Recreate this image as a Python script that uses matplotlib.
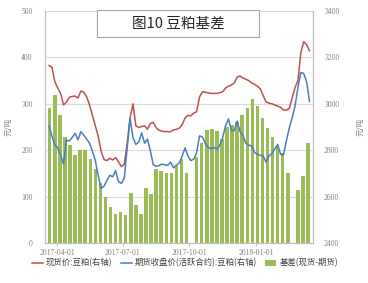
import matplotlib
matplotlib.use("Agg")
import matplotlib.pyplot as plt
import matplotlib.dates as mdates
from matplotlib.patches import Rectangle, Patch
from matplotlib.lines import Line2D
import numpy as np
import pandas as pd

plt.rcParams['font.family'] = ['Noto Sans CJK SC', 'DejaVu Sans']

# spot and futures price (right axis), sampled every 4 days
line_dates = pd.date_range("2017-03-21", periods=91, freq="4D")
spot = [3165, 3158, 3095, 3068, 3045, 2995, 3008, 3028, 3032, 3033,
        3025, 3055, 3050, 3030, 2995, 2950, 2905, 2860, 2795, 2760,
        2755, 2765, 2758, 2768, 2750, 2729, 2740, 2830, 2939, 3000,
        2905, 2898, 2902, 2905, 2890, 2915, 2920, 2897, 2886, 2882,
        2880, 2880, 2880, 2887, 2890, 2895, 2910, 2939, 2950, 2948,
        2960, 2966, 3030, 3052, 3050, 3047, 3045, 3045, 3045, 3048,
        3052, 3068, 3076, 3081, 3090, 3115, 3120, 3111, 3106, 3100,
        3090, 3084, 3076, 3065, 3035, 3008, 3003, 3000, 2995, 2990,
        2985, 2973, 2973, 2980, 3025, 3070, 3100, 3220, 3268, 3255,
        3228]
futures = [2905, 2860, 2824, 2810, 2780, 2740, 2843, 2840, 2855, 2873,
           2845, 2880, 2865, 2848, 2830, 2795, 2755, 2690, 2635, 2645,
           2670, 2692, 2685, 2712, 2664, 2657, 2680, 2810, 2937, 2855,
           2825, 2835, 2875, 2830, 2848, 2798, 2738, 2730, 2734, 2740,
           2737, 2735, 2748, 2724, 2735, 2745, 2775, 2810, 2775, 2755,
           2762, 2790, 2862, 2857, 2830, 2812, 2806, 2812, 2805, 2820,
           2855, 2905, 2935, 2885, 2885, 2925, 2880, 2862, 2830, 2822,
           2818, 2790, 2783, 2778, 2775, 2748, 2775, 2786, 2805, 2825,
           2782, 2780, 2840, 2895, 2940, 2990, 3070, 3135, 3131, 3095,
           3010]

# weekly basis (left axis), nan = holiday week
bar_dates = pd.date_range("2017-03-22", periods=52, freq="7D")
basis = [290, 320, 275, 228, 212, 190, 200, 200, 180, 160,
         130, 100, 78, 62, 66, 60, 108, 82, 62, 118,
         105, 160, 155, 150, 150, 165, 180, 150, np.nan, 185,
         215, 243, 245, 242, 225, 250, 255, 260, 275, 290,
         310, 295, 270, 248, 228, 210, 195, 150, np.nan, 115,
         145, 215]

red = "#c0504d"
blue = "#4a7ebb"
green = "#9bbb59"
gray = "#808080"

fig = plt.figure(figsize=(3.68, 2.83), dpi=100)
ax = fig.add_axes([45/368, 40/283, 268/368, 232/283])
ax2 = ax.twinx()

ax.bar(bar_dates, basis, width=4.8, color=green, linewidth=0)
ax2.plot(line_dates, spot, color=red, lw=1.1)
ax2.plot(line_dates, futures, color=blue, lw=1.1)

ax.set_ylim(0, 500)
ax.set_yticks(range(0, 501, 100))
ax2.set_ylim(2400, 3400)
ax2.set_yticks(range(2400, 3401, 200))
ax.set_xlim(pd.Timestamp("2017-03-15 10:00"), pd.Timestamp("2018-03-20 20:00"))
ax.set_xticks(pd.to_datetime(["2017-04-01", "2017-07-01", "2017-10-01", "2018-01-01"]))
ax.xaxis.set_major_formatter(mdates.DateFormatter("%Y-%m-%d"))

ax.grid(axis="y", color="#d9d9d9", lw=0.8)
ax.set_axisbelow(True)
for a in (ax, ax2):
    for s in a.spines.values():
        s.set_color("#bfbfbf")
        s.set_linewidth(0.8)
    a.spines["top"].set_visible(False)
    for lab in a.get_xticklabels() + a.get_yticklabels():
        lab.set_family("Liberation Serif")
ax.tick_params(axis="y", length=0, pad=9, labelsize=5.5, labelcolor=gray)
ax2.tick_params(axis="y", length=0, pad=8, labelsize=5.5, labelcolor=gray)
ax.tick_params(axis="x", length=2, color="#bfbfbf", pad=2, labelsize=5.5, labelcolor=gray)

ax.set_ylabel("元/吨", fontsize=5.5, color=gray, labelpad=6)
ax2.set_ylabel("元/吨", fontsize=5.5, color=gray, labelpad=12)

# title box
fig.patches.append(Rectangle((97/368, 246/283), 162/368, 27/283, transform=fig.transFigure,
                             facecolor="white", edgecolor="#a6a6a6", lw=0.8))
fig.text(178/368, 1 - 24/283, "图10 豆粕基差", ha="center", va="center", fontsize=10.5, color="#262626")

handles = [Line2D([], [], color=red, lw=1.1),
           Line2D([], [], color=blue, lw=1.1),
           Patch(facecolor=green, edgecolor="none")]
labels = ["现货价:豆粕(右轴)", "期货收盘价(活跃合约):豆粕(右轴)", "基差(现货-期货)"]
leg = fig.legend(handles, labels, loc="center", bbox_to_anchor=(185/368, 1 - 263/283), ncol=3,
                 frameon=False, fontsize=6, handlelength=1.3, handletextpad=0.4,
                 columnspacing=1.0, handleheight=0.8)
for t in leg.get_texts():
    t.set_color("#404040")

fig.savefig("out.png", dpi=100, facecolor="white")
